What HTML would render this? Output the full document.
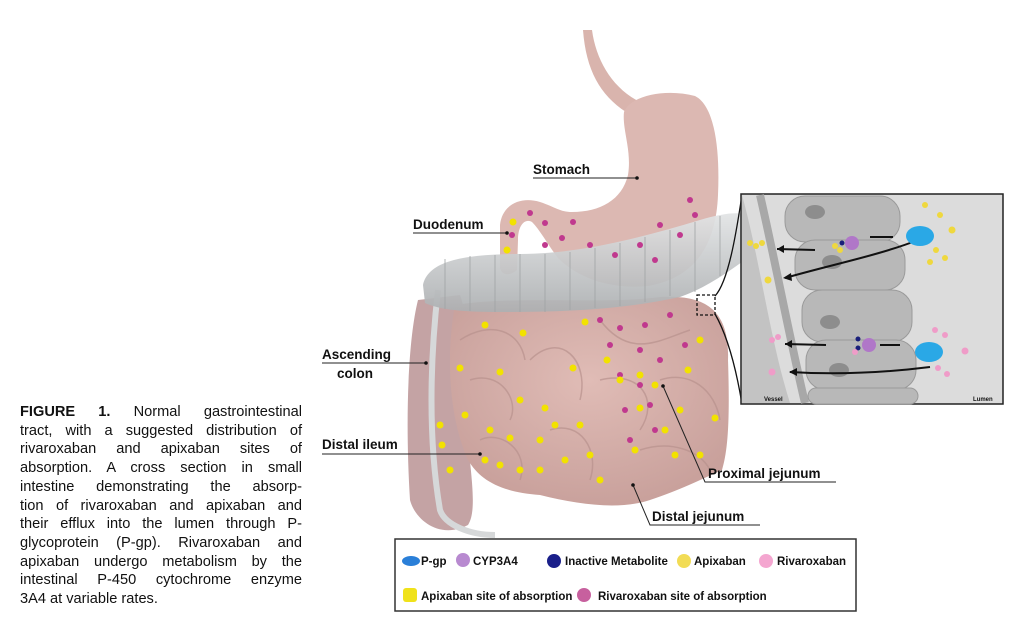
<!DOCTYPE html>
<html><head><meta charset="utf-8"><style>
html,body{margin:0;padding:0;background:#fff;width:1024px;height:627px;overflow:hidden}
.cap{position:absolute;left:20px;top:403px;width:282px;font-family:"Liberation Sans",sans-serif;font-size:14.6px;line-height:18.7px;color:#111}
.cap div{text-align:justify;text-align-last:justify;white-space:nowrap}
.cap div.l{text-align-last:left}
svg text{font-family:"Liberation Sans",sans-serif;font-weight:bold;fill:#111}
</style></head><body>
<div class="cap">
<div><b>FIGURE 1.</b> Normal gastrointestinal</div>
<div>tract, with a suggested distribution of</div>
<div>rivaroxaban and apixaban sites of</div>
<div>absorption. A cross section in small</div>
<div>intestine demonstrating the absorp-</div>
<div>tion of rivaroxaban and apixaban and</div>
<div>their efflux into the lumen through P-</div>
<div>glycoprotein (P-gp). Rivaroxaban and</div>
<div>apixaban undergo metabolism by the</div>
<div>intestinal P-450 cytochrome enzyme</div>
<div class="l">3A4 at variable rates.</div>
</div>
<svg width="1024" height="627" style="position:absolute;left:0;top:0">
<defs>
<radialGradient id="pk" cx="50%" cy="40%" r="60%"><stop offset="0" stop-color="#e0bcb6"/><stop offset="1" stop-color="#c9a19c"/></radialGradient>
<linearGradient id="gr" x1="0" y1="0" x2="0" y2="1"><stop offset="0" stop-color="#e2e4e5"/><stop offset="1" stop-color="#adb0b2"/></linearGradient>
</defs>
<path d="M583,30 C586,70 600,95 626,112 L640,102 C612,88 596,60 592,30 Z" fill="#d9b4ad"/>
<path d="M624,112 C630,96 665,88 695,96 C715,106 720,150 718,195 C716,245 695,278 648,286 C605,290 575,275 558,258 C548,245 540,230 532,222 C525,218 518,225 518,240 L517,270 C510,276 502,276 500,268 L500,225 C502,205 520,196 540,202 C555,207 560,212 572,212 C600,212 622,200 628,175 C632,150 622,130 624,112 Z" fill="#dcb8b2"/>
<path d="M418,300 C408,340 405,420 410,500 C415,520 440,540 468,525 C478,510 470,470 466,420 C462,360 470,320 460,295 Z" fill="#c4a3a4"/>
<path d="M438,290 C430,360 428,440 440,510 C445,525 470,535 495,535" stroke="#d6d8d9" stroke-width="6" fill="none"/>
<path d="M455,305 C520,295 600,305 660,297 C700,295 730,305 728,360 C730,420 728,450 722,470 C700,480 680,490 650,500 C620,510 580,505 540,495 C500,492 480,480 468,460 C450,420 445,360 455,305 Z" fill="url(#pk)"/>
<g fill="none" stroke="#b8918d" stroke-width="1.5" opacity="0.7">
<path d="M460,340 C490,320 520,330 525,360 M470,380 C500,370 520,400 510,420 M530,360 C560,330 590,360 580,400 M600,320 C630,360 660,340 690,330 M600,380 C640,370 660,400 640,430 M550,430 C580,420 600,450 590,480 M640,450 C670,440 700,450 710,470 M480,440 C500,430 530,450 520,480 M660,380 C690,370 715,390 720,420"/>
</g>
<path d="M423,285 C428,262 460,254 520,254 C580,254 640,238 700,220 C720,214 735,212 742,214 L742,262 C720,278 700,290 680,297 C620,310 560,312 500,312 C465,312 440,310 425,303 Z" fill="url(#gr)" opacity="0.93"/>
<g stroke="#9fa2a4" stroke-width="1" fill="none" opacity="0.8">
<path d="M445,259 v50 M470,256 v55 M495,255 v57 M520,254 v58 M545,254 v58 M570,252 v58 M595,248 v60 M620,243 v63 M645,237 v65 M670,230 v66 M695,222 v70 M720,216 v60"/>
</g>
<rect x="697" y="295" width="18" height="20" fill="none" stroke="#111" stroke-dasharray="3,2" stroke-width="1.3"/>
<path d="M715,296 C730,280 738,220 742,195 M715,314 C730,340 738,380 742,404" stroke="#111" fill="none" stroke-width="1.3"/>
<g fill="#c0398e">
<circle cx="530" cy="213" r="3"/><circle cx="545" cy="223" r="3"/><circle cx="573" cy="222" r="3"/><circle cx="562" cy="238" r="3"/><circle cx="590" cy="245" r="3"/><circle cx="615" cy="255" r="3"/><circle cx="640" cy="245" r="3"/><circle cx="655" cy="260" r="3"/><circle cx="680" cy="235" r="3"/><circle cx="695" cy="215" r="3"/><circle cx="690" cy="200" r="3"/><circle cx="660" cy="225" r="3"/><circle cx="545" cy="245" r="3"/><circle cx="512" cy="235" r="3"/><circle cx="600" cy="320" r="3"/><circle cx="620" cy="328" r="3"/><circle cx="645" cy="325" r="3"/><circle cx="670" cy="315" r="3"/><circle cx="685" cy="345" r="3"/><circle cx="610" cy="345" r="3"/><circle cx="640" cy="350" r="3"/><circle cx="660" cy="360" r="3"/><circle cx="620" cy="375" r="3"/><circle cx="640" cy="385" r="3"/><circle cx="625" cy="410" r="3"/><circle cx="650" cy="405" r="3"/><circle cx="630" cy="440" r="3"/><circle cx="655" cy="430" r="3"/>
</g>
<g fill="#f2e200">
<circle cx="513" cy="222" r="3.5"/><circle cx="507" cy="250" r="3.5"/><circle cx="485" cy="325" r="3.5"/><circle cx="523" cy="333" r="3.5"/><circle cx="460" cy="368" r="3.5"/><circle cx="500" cy="372" r="3.5"/><circle cx="585" cy="322" r="3.5"/><circle cx="607" cy="360" r="3.5"/><circle cx="573" cy="368" r="3.5"/><circle cx="700" cy="340" r="3.5"/><circle cx="688" cy="370" r="3.5"/><circle cx="520" cy="400" r="3.5"/><circle cx="545" cy="408" r="3.5"/><circle cx="580" cy="425" r="3.5"/><circle cx="465" cy="415" r="3.5"/><circle cx="490" cy="430" r="3.5"/><circle cx="510" cy="438" r="3.5"/><circle cx="440" cy="425" r="3.5"/><circle cx="442" cy="445" r="3.5"/><circle cx="450" cy="470" r="3.5"/><circle cx="485" cy="460" r="3.5"/><circle cx="500" cy="465" r="3.5"/><circle cx="520" cy="470" r="3.5"/><circle cx="540" cy="440" r="3.5"/><circle cx="555" cy="425" r="3.5"/><circle cx="565" cy="460" r="3.5"/><circle cx="540" cy="470" r="3.5"/><circle cx="590" cy="455" r="3.5"/><circle cx="600" cy="480" r="3.5"/><circle cx="620" cy="380" r="3.5"/><circle cx="640" cy="375" r="3.5"/><circle cx="655" cy="385" r="3.5"/><circle cx="640" cy="408" r="3.5"/><circle cx="665" cy="430" r="3.5"/><circle cx="680" cy="410" r="3.5"/><circle cx="715" cy="418" r="3.5"/><circle cx="700" cy="455" r="3.5"/><circle cx="675" cy="455" r="3.5"/><circle cx="635" cy="450" r="3.5"/></g>
<g font-size="13.5">
<text x="533" y="174">Stomach</text><text x="413" y="229">Duodenum</text>
<text x="322" y="359">Ascending</text><text x="337" y="378">colon</text>
<text x="322" y="449">Distal ileum</text>
<text x="708" y="478">Proximal jejunum</text><text x="652" y="521">Distal jejunum</text>
</g>
<g stroke="#222" stroke-width="1" fill="none">
<path d="M533,178 H637"/><path d="M413,233 H507"/><path d="M322,363 H426"/><path d="M322,454 H480"/>
<path d="M663,386 L705,482 H836"/><path d="M633,485 L650,525 H760"/>
</g>
<g fill="#111"><circle cx="637" cy="178" r="1.8"/><circle cx="507" cy="233" r="1.8"/><circle cx="426" cy="363" r="1.8"/><circle cx="480" cy="454" r="1.8"/><circle cx="663" cy="386" r="1.8"/><circle cx="633" cy="485" r="1.8"/></g>
<rect x="741" y="194" width="262" height="210" fill="#dcdcdc" stroke="#222" stroke-width="1.5"/>
<path d="M742,195 C760,260 770,340 790,403 L742,403 Z" fill="#c3c3c3"/>
<path d="M760,195 C775,260 790,340 805,403" stroke="#a8a8a8" stroke-width="8" fill="none"/>
<g fill="#b8b8b8" stroke="#9a9a9a">
<rect x="785" y="196" width="115" height="46" rx="20"/><rect x="795" y="240" width="110" height="50" rx="20"/><rect x="802" y="290" width="110" height="52" rx="20"/><rect x="806" y="340" width="110" height="50" rx="20"/><rect x="808" y="388" width="110" height="16" rx="8"/>
</g>
<g fill="#8d8d8d"><ellipse cx="815" cy="212" rx="10" ry="7"/><ellipse cx="832" cy="262" rx="10" ry="7"/><ellipse cx="830" cy="322" rx="10" ry="7"/><ellipse cx="839" cy="370" rx="10" ry="7"/></g>
<g stroke="#111" stroke-width="2" fill="none">
<path d="M815,250 L777,249"/><path d="M918,240 C880,255 830,265 785,278"/><path d="M826,345 L785,344"/><path d="M930,367 C890,372 840,375 790,372"/>
<path d="M893,237 L870,237"/><path d="M900,345 L880,345"/>
</g>
<g fill="#111"><path d="M777,249 l7,-4 v8z"/><path d="M783,278 l8,-5 l1,8z"/><path d="M785,344 l7,-4 v8z"/><path d="M789,372 l8,-4 v8z"/></g>
<g fill="#2aa8e6"><ellipse cx="920" cy="236" rx="14" ry="10"/><ellipse cx="929" cy="352" rx="14" ry="10"/></g>
<g fill="#b077c8"><circle cx="852" cy="243" r="7"/><circle cx="869" cy="345" r="7"/></g>
<g fill="#1a1f7a"><circle cx="842" cy="243" r="2.5"/><circle cx="858" cy="339" r="2.5"/><circle cx="858" cy="348" r="2.5"/></g>
<g fill="#efd83e"><circle cx="750" cy="243" r="3"/><circle cx="756" cy="246" r="3"/><circle cx="762" cy="243" r="3"/><circle cx="768" cy="280" r="3.5"/><circle cx="835" cy="246" r="3"/><circle cx="840" cy="250" r="3"/><circle cx="925" cy="205" r="3"/><circle cx="940" cy="215" r="3"/><circle cx="952" cy="230" r="3.5"/><circle cx="936" cy="250" r="3"/><circle cx="945" cy="258" r="3"/><circle cx="930" cy="262" r="3"/></g>
<g fill="#ef9cc8"><circle cx="772" cy="340" r="3"/><circle cx="778" cy="337" r="3"/><circle cx="772" cy="372" r="3.5"/><circle cx="935" cy="330" r="3"/><circle cx="945" cy="335" r="3"/><circle cx="965" cy="351" r="3.5"/><circle cx="938" cy="368" r="3"/><circle cx="947" cy="374" r="3"/><circle cx="855" cy="352" r="3"/></g>
<text x="764" y="401" font-size="6" font-weight="normal" fill="#333">Vessel</text>
<text x="973" y="401" font-size="6" font-weight="normal" fill="#333">Lumen</text>
<rect x="395" y="539" width="461" height="72" fill="#fff" stroke="#333" stroke-width="1.5"/>
<g font-size="11.5">
<ellipse cx="411" cy="561" rx="9" ry="5" fill="#2a7fd8"/><text x="421" y="565">P-gp</text>
<circle cx="463" cy="560" r="7" fill="#b88ad0"/><text x="473" y="565">CYP3A4</text>
<circle cx="554" cy="561" r="7" fill="#1a1f8a"/><text x="565" y="565">Inactive Metabolite</text>
<circle cx="684" cy="561" r="7" fill="#f2dc55"/><text x="694" y="565">Apixaban</text>
<circle cx="766" cy="561" r="7" fill="#f4a6d0"/><text x="777" y="565">Rivaroxaban</text>
<rect x="403" y="588" width="14" height="14" rx="3" fill="#f0e21a"/><text x="421" y="600" font-weight="normal">Apixaban site of absorption</text>
<circle cx="584" cy="595" r="7" fill="#c7609e"/><text x="598" y="600" font-weight="normal">Rivaroxaban site of absorption</text>
</g>
</svg>
</body></html>
